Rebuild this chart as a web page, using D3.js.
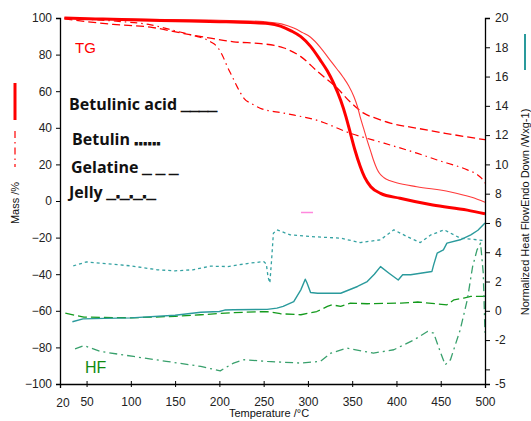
<!DOCTYPE html>
<html>
<head>
<meta charset="utf-8">
<script src="https://cdn.jsdelivr.net/npm/d3@7"></script>
<style>
  html, body { margin: 0; padding: 0; background: #fff; }
  svg { display: block; }
  text { font-family: "Liberation Sans", Arial, sans-serif; }
</style>
</head>
<body>
<svg id="chart" width="531" height="421"></svg>
<script>
// Temperature ticks and axis ranges
const xTicks = [50, 100, 150, 200, 250, 300, 350, 400, 450, 500];
const massTicks = [100, 80, 60, 40, 20, 0, -20, -40, -60, -80, -100];
const hfTicks = [20, 18, 16, 14, 12, 10, 8, 6, 4, 2, 0, -2, -4, -5];
const hfTickLabels = ["20", "18", "16", "14", "12", "10", "8", "6", "4", "2", "0", "-2", "", "-5"];

// Sample names and their line-style keys
const legendNames = ["Betulinic acid", "Betulin", "Gelatine", "Jelly"];
const legendMarks = ["____", "......", "_ _ _", "_._._._"];

// TG curves: [temperature °C, mass %]
const tgBetulinicAcid = [[25,100],[60,99.5],[100,99],[150,98.5],[200,98],[235,97.5],[255,97],[269,95.6],[281,93],[292,89.8],[303,84.5],[314,77],[322,71],[329,64.4],[337,55],[343,46],[348,37],[353,28],[359,19],[364,13],[371,7.8],[382,4.2],[404,1.5],[441,-2.2],[480,-5],[500,-7]];
const tgBetulin = [[25,100],[60,99.7],[120,99.3],[200,98.8],[250,98],[270,96.8],[284,94.5],[294,92],[303,89.5],[314,84],[325,77],[333,72],[340,67.5],[346,63],[352,57],[356,51.5],[359,46],[363,39.5],[367,33],[371,27],[374,22.4],[378,17.5],[381,15],[386,12.7],[392,11.2],[400,10],[423,7.8],[460,5.1],[485,2],[500,-0.7]];
const tgGelatine = [[25,99.5],[50,98],[80,96.5],[122,95],[160,91.5],[190,89],[216,87],[247,86],[262,85],[273,83.6],[292,78.9],[311,70.7],[333,61.7],[348,54],[363,48],[378,45],[393,42.6],[424,39.7],[455,37],[480,35],[500,33.5]];
const tgJelly = [[25,100],[60,99],[90,98],[120,96.5],[150,93],[170,90.5],[190,87],[198,84],[204,79],[209,73.4],[215,67.5],[220,62.5],[228,56],[237,53],[246,50.7],[273,48],[311,44],[348,37],[386,31.6],[424,26],[446,22.4],[480,17],[491,14.5],[496,12.5],[500,9.8]];

// Heat flow curves: [temperature °C, W/g]
const hfBetulinicAcid = [[34,-0.75],[46,-0.55],[70,-0.52],[100,-0.48],[150,-0.3],[179,-0.1],[200,-0.05],[206,0.05],[216,0.07],[254,0.1],[265,0.18],[272,0.3],[284,0.63],[292,1.43],[297,2.16],[299,1.9],[303,1.25],[311,1.2],[337,1.2],[356,1.66],[367,2.0],[375,2.5],[382,3.02],[392,2.55],[402,2.1],[407,2.46],[416,2.46],[440,2.68],[442,3.14],[446,3.94],[453,4.16],[457,4.62],[472,4.85],[484,5.19],[492,5.5],[500,5.99]];
const hfBetulin = [[35,3.07],[50,3.34],[75,3.2],[100,3.07],[130,2.8],[150,2.73],[170,2.8],[190,3.05],[209,3.02],[235,3.26],[250,3.36],[253,3.2],[255,2.3],[257,1.9],[259,3.5],[261,5.3],[265,5.53],[280,5.19],[303,5.07],[337,4.96],[359,4.66],[382,4.85],[397,5.53],[412,5.07],[427,4.66],[439,5.19],[454,5.53],[472,4.96],[491,4.85],[500,4.8]];
const hfGelatine = [[26,-0.16],[47,-0.43],[100,-0.48],[150,-0.38],[179,-0.27],[216,-0.12],[254,-0.05],[269,-0.2],[292,-0.27],[310,-0.05],[322,0.3],[327,0.41],[337,0.3],[348,0.53],[367,0.48],[405,0.53],[424,0.6],[457,0.41],[465,0.75],[476,0.87],[484,0.98],[500,0.98]];
const hfJelly = [[37,-2.6],[47,-2.37],[66,-2.78],[103,-3.12],[140,-3.45],[179,-3.8],[201,-4.1],[216,-3.57],[228,-3.34],[254,-3.46],[292,-3.57],[314,-3.46],[326,-2.89],[344,-2.55],[374,-2.89],[397,-2.66],[420,-1.98],[435,-1.41],[442,-1.52],[450,-2.89],[455,-3.69],[461,-3.34],[472,-1.3],[480,0.75],[486,3.02],[491,4.16],[495,4.62],[498,2.6],[500,-1.5]];

const svg = d3.select("#chart");

const x = d3.scaleLinear().domain([20, 500]).range([60, 485]);
const yMass = d3.scaleLinear().domain([-100, 100]).range([384, 18]);
const yHF = d3.scaleLinear().domain([-5, 20]).range([384, 18]);

const red = "#ff0000";
const teal = "#2a9a9c";
const tealDot = "#34a2a2";
const green = "#139a1c";
const greenDashDot = "#38a06c";

// Curves
const lineMass = d3.line().x(d => x(d[0])).y(d => yMass(d[1])).curve(d3.curveMonotoneX);
const lineHF = d3.line().x(d => x(d[0])).y(d => yHF(d[1])).curve(d3.curveLinear);

const series = [
  { data: tgGelatine, gen: lineMass, color: red, width: 1.3, dash: "8,4" },
  { data: tgJelly, gen: lineMass, color: red, width: 1.2, dash: "7,4,1.5,4" },
  { data: tgBetulin, gen: lineMass, color: "#ff3a3a", width: 1.1, dash: null },
  { data: tgBetulinicAcid, gen: lineMass, color: red, width: 3, dash: null },
  { data: hfBetulin, gen: lineHF, color: tealDot, width: 1.3, dash: "3,3" },
  { data: hfGelatine, gen: lineHF, color: green, width: 1.3, dash: "9,4" },
  { data: hfJelly, gen: lineHF, color: greenDashDot, width: 1.3, dash: "8,4,2,4" },
  { data: hfBetulinicAcid, gen: lineHF, color: teal, width: 1.4, dash: null }
];

svg.append("g").selectAll("path")
  .data(series)
  .join("path")
  .attr("d", s => s.gen(s.data))
  .attr("fill", "none")
  .attr("stroke", s => s.color)
  .attr("stroke-width", s => s.width)
  .attr("stroke-dasharray", s => s.dash)
  .attr("stroke-linejoin", "round");

// Axes
const leftAxis = d3.axisLeft(yMass).tickValues(massTicks).tickSize(4).tickPadding(4);
const rightAxis = d3.axisRight(yHF).tickValues(hfTicks).tickSize(5).tickPadding(5)
  .tickFormat((d, i) => hfTickLabels[i]);
const bottomAxis = d3.axisBottom(x).tickValues(xTicks).tickSize(4).tickPadding(9);

function styleAxis(g) {
  g.select(".domain").attr("stroke", "#000").attr("stroke-width", 1.3);
  g.selectAll(".tick line").attr("stroke", "#000");
  g.selectAll(".tick text").attr("fill", "#222").style("font-size", "12px")
    .style("font-family", "'Liberation Sans', Arial, sans-serif");
}

svg.append("g").attr("transform", "translate(60,0)").call(leftAxis).call(styleAxis);
svg.append("g").attr("transform", "translate(485,0)").call(rightAxis).call(styleAxis);
const gx = svg.append("g").attr("transform", "translate(0,384)").call(bottomAxis).call(styleAxis);
gx.selectAll(".tick line").attr("y1", -3).attr("y2", 3);

// Origin label of the temperature axis
svg.append("text").attr("x", x(20) + 3).attr("y", 407).attr("text-anchor", "middle")
  .style("font-size", "12px").attr("fill", "#222").text("20");

// Axis titles
svg.append("text").attr("transform", "translate(19,203) rotate(-90)")
  .attr("text-anchor", "middle").style("font-size", "11px").attr("fill", "#111").text("Mass /%");
svg.append("text").attr("transform", "translate(529,212) rotate(-90)")
  .attr("text-anchor", "middle").style("font-size", "11px").attr("fill", "#111")
  .text("Normalized Heat FlowEndo Down /Wxg-1)");
svg.append("text").attr("x", 269).attr("y", 417).attr("text-anchor", "middle")
  .style("font-size", "11px").attr("fill", "#111").text("Temperature /°C");

// Group labels
svg.append("text").attr("x", 75).attr("y", 53).style("font-size", "15px").attr("fill", red).text("TG");
svg.append("text").attr("x", 85).attr("y", 373).style("font-size", "16px").attr("fill", "#118a11").text("HF");

// Legend text: sample name followed by its line-style key
const legendX = [69, 72, 71, 69];
const legendY = [110, 145, 173, 198];
const legend = svg.append("g").selectAll("text")
  .data(legendNames)
  .join("text")
  .attr("x", (d, i) => legendX[i])
  .attr("y", (d, i) => legendY[i])
  .attr("fill", "#111")
  .style("font-weight", "bold")
  .style("font-size", "16px");
legend.append("tspan")
  .style("font-family", "'Open Sans', Lato, sans-serif")
  .text(d => d + " ");
legend.append("tspan")
  .style("font-family", "'Liberation Sans', Arial, sans-serif")
  .attr("stroke", "#111")
  .attr("stroke-width", 0.9)
  .text((d, i) => legendMarks[i]);

// Axis line-style markers
svg.append("line").attr("x1", 15).attr("x2", 15).attr("y1", 83).attr("y2", 120)
  .attr("stroke", red).attr("stroke-width", 3);
svg.append("line").attr("x1", 15).attr("x2", 15).attr("y1", 131).attr("y2", 167)
  .attr("stroke", red).attr("stroke-width", 1.2).attr("stroke-dasharray", "7,4,1.5,4");
svg.append("line").attr("x1", 525).attr("x2", 525).attr("y1", 34).attr("y2", 70)
  .attr("stroke", teal).attr("stroke-width", 2);

// Small pink mark
svg.append("line").attr("x1", 301).attr("x2", 313).attr("y1", 212.5).attr("y2", 212.5)
  .attr("stroke", "#ff88dd").attr("stroke-width", 1.5);
</script>
</body>
</html>
